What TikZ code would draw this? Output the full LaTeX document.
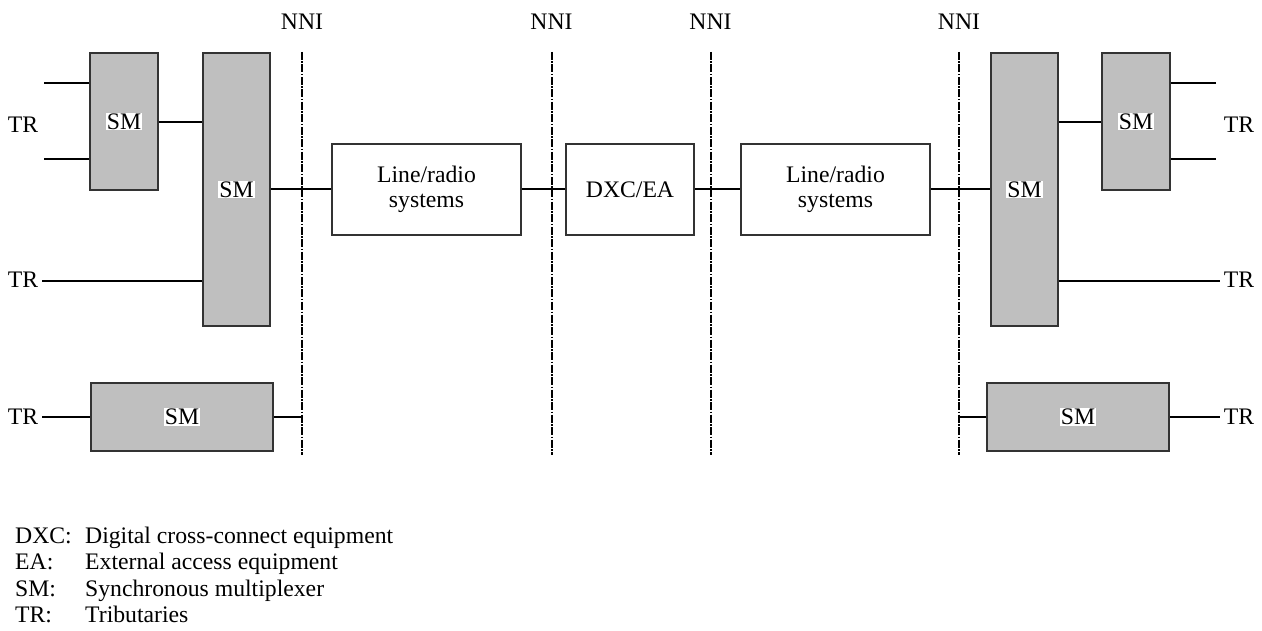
\documentclass[tikz,border=0pt]{standalone}
\usepackage{fontspec}
\setmainfont{Liberation Serif}
\usetikzlibrary{positioning}

\begin{document}
\begin{tikzpicture}[
  x=1pt, y=-1pt,
  font=\fontsize{23.7pt}{25pt}\selectfont,
  smbox/.style={rectangle, draw=black!80, line width=1.5pt, fill=black!25,
                inner sep=0pt},
  sysbox/.style={rectangle, draw=black!80, line width=1.5pt, fill=white,
                 minimum width=189pt, minimum height=91pt, align=center},
  smlbl/.style={fill=white, inner sep=1pt},
  link/.style={line width=2pt, draw=black},
  nni/.style={line width=2pt, draw=black,
              dash pattern=on 8pt off 1.5pt on 1.5pt off 1.5pt},
  txt/.style={inner sep=0pt},
]
\useasboundingbox (0,0) rectangle (1262,631);

% --- NNI reference points ---
\foreach \nx [count=\i] in {302,551.5,710.5,959} {
  \coordinate (nni\i t) at (\nx,52);
  \coordinate (nni\i b) at (\nx,455);
  \node[txt, anchor=base] (nnilbl\i) at (\nx,30) {NNI};
}

% --- equipment ---
\node[smbox, minimum width=68pt,  minimum height=137pt, label={[smlbl]center:SM}] (smA) at (124,121.5) {};
\node[smbox, minimum width=67pt,  minimum height=273pt, label={[smlbl]center:SM}] (smB) at (236.5,189.5) {};
\node[smbox, minimum width=182pt, minimum height=68pt,  label={[smlbl]center:SM}] (smC) at (182,417) {};
\node[sysbox]                                   (lrA) at (426.5,189.5) {Line/radio\\systems};
\node[sysbox, minimum width=128pt]              (dxc) at (630,189.5)   {DXC/EA};
\node[sysbox]                                   (lrB) at (835.5,189.5) {Line/radio\\systems};
\node[smbox, minimum width=67pt,  minimum height=273pt, label={[smlbl]center:SM}] (smD) at (1024.5,189.5) {};
\node[smbox, minimum width=68pt,  minimum height=137pt, label={[smlbl]center:SM}] (smE) at (1136,121.5) {};
\node[smbox, minimum width=182pt, minimum height=68pt,  label={[smlbl]center:SM}] (smF) at (1078,417) {};

% --- tributaries ---
\node[txt] (trA) at (23,125)   {TR};
\node[txt] (trB) at (23,280)   {TR};
\node[txt] (trC) at (23,417)   {TR};
\node[txt] (trD) at (1239,125) {TR};
\node[txt] (trE) at (1239,280) {TR};
\node[txt] (trF) at (1239,417) {TR};
\coordinate (inA1) at (44,83);
\coordinate (inA2) at (44,159);
\coordinate (inD1) at (1216,83);
\coordinate (inD2) at (1216,159);

% --- NNI lines ---
\foreach \i in {1,...,4} \draw[nni] (nni\i t) -- (nni\i b);

% --- connections ---
\draw[link] (inA1) -- (inA1 -| smA.west);
\draw[link] (inA2) -- (inA2 -| smA.west);
\draw[link] (smA.east |- 0,122) -- (smB.west |- 0,122);
\draw[link] (trB.east) ++(4,1) -- (smB.west |- 0,281);
\draw[link] (trC.east) ++(4,0) -- (smC.west);
\draw[link] (smC.east) -- (smC.east -| nni1t);
\draw[link] (smB.east) -- (lrA.west);
\draw[link] (lrA.east) -- (dxc.west);
\draw[link] (dxc.east) -- (lrB.west);
\draw[link] (lrB.east) -- (smD.west);
\draw[link] (smD.east |- 0,122) -- (smE.west |- 0,122);
\draw[link] (inD1) -- (inD1 -| smE.east);
\draw[link] (inD2) -- (inD2 -| smE.east);
\draw[link] (trE.west) ++(-4,1) -- (smD.east |- 0,281);
\draw[link] (trF.west) ++(-4,0) -- (smF.east);
\draw[link] (smF.west) -- (smF.west -| nni4t);

% --- legend ---
\node[txt, anchor=base west, font=\fontsize{23.7pt}{26.5pt}\selectfont] (legend) at (15,543)
  {\begin{tabular}[t]{@{}p{70pt}@{}l@{}}
   DXC: & Digital cross-connect equipment\\
   EA:  & External access equipment\\
   SM:  & Synchronous multiplexer\\
   TR:  & Tributaries
   \end{tabular}};
\end{tikzpicture}
\end{document}
